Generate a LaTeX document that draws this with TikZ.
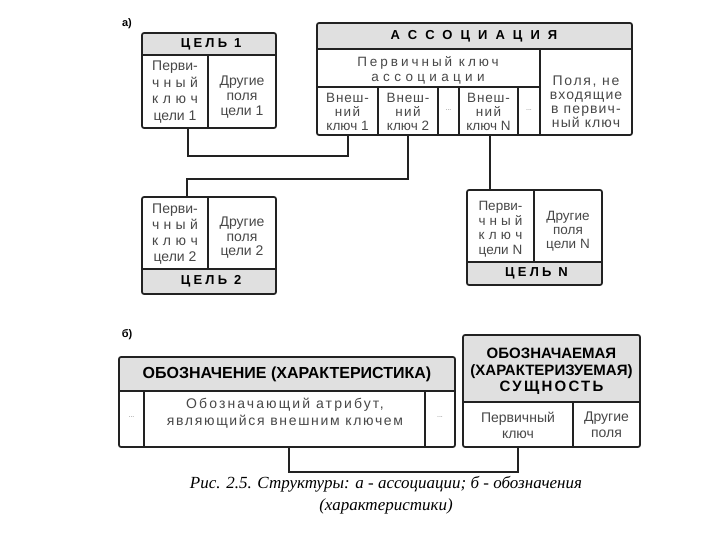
\documentclass[tikz,border=0pt]{standalone}
\usepackage{fontspec}
\setmainfont{Liberation Sans}
\newfontfamily\capfont{Liberation Serif}
\definecolor{frame}{HTML}{222222}
\definecolor{hdr}{HTML}{E0E0E0}
\definecolor{txt}{HTML}{484848}
\newcommand\LS[2]{{\addfontfeature{LetterSpace=#1}#2}}
\newcommand\spreadbox[2]{\makebox[#1][s]{#2}}
\begin{document}
\begin{tikzpicture}[x=1pt,y=-1pt,
  frm/.style={draw=frame,line width=1.7pt},
  outer/.style={frm,rounded corners=2pt},
  cell/.style={text=txt,align=center,inner sep=0pt,font=\fontsize{14}{16.5}\selectfont},
  fkcell/.style={text=txt,align=center,inner sep=0pt,font=\fontsize{13.5}{14}\selectfont},
  head/.style={text=black,inner sep=0pt,align=center,font=\bfseries\fontsize{13}{15}\selectfont},
  dots/.style={text=txt!70,inner sep=0pt,font=\fontsize{7}{8}\selectfont},
  link/.style={draw=frame,line width=1.7pt},
  lbl/.style={inner sep=0pt,font=\bfseries\fontsize{11}{13}\selectfont}
]
\useasboundingbox[fill=white] (0,0) rectangle (720,540);

% ---------- part a ----------
\node[lbl] (la) at (127,24) {а)};

% Цель 1
\fill[hdr] (142,33) rectangle (276,55);
\draw[frm] (142,55) -- (276,55);
\draw[frm] (208,55) -- (208,128);
\draw[outer] (142,33) rectangle (276,128);
\node[head] (g1h) at (211,44) {\LS{25}{ЦЕЛЬ 1}};
\node[cell] (g1pk) at (175,92) {Перви-\\\spreadbox{46pt}{ч\hfill н\hfill ы\hfill й}\\\spreadbox{46pt}{к\hfill л\hfill ю\hfill ч}\\цели 1};
\node[cell,font=\fontsize{14}{15}\selectfont] (g1o) at (242,97) {Другие\\поля\\цели 1};
\coordinate (g1key) at (188,128);

% Ассоциация
\fill[hdr] (317,23) rectangle (632,49);
\draw[frm] (317,49) -- (632,49);
\draw[frm] (540,49) -- (540,135);
\draw[frm] (317,87) -- (540,87);
\foreach \x in {378,438,459,518} \draw[frm] (\x,87) -- (\x,135);
\draw[outer] (317,23) rectangle (632,135);
\node[head] (ah) at (474,36) {\LS{62}{АССОЦИАЦИЯ}};
\node[cell,font=\fontsize{13.5}{15}\selectfont] (apk) at (428,70.5) {\LS{22}{Первичный ключ}\\\LS{32}{ассоциации}};
\node[fkcell] (afk1) at (347.5,112) {\LS{6}{Внеш-}\\\LS{10}{ний}\\ключ 1};
\node[fkcell] (afk2) at (408,112) {\LS{6}{Внеш-}\\\LS{10}{ний}\\ключ 2};
\node[dots] (ad1) at (448.5,110) {...};
\node[fkcell] (afkn) at (488.5,112) {\LS{6}{Внеш-}\\\LS{10}{ний}\\ключ N};
\node[dots] (ad2) at (529,110) {...};
\node[cell,font=\fontsize{14}{14}\selectfont] (aoth) at (586,102) {\LS{12}{Поля, не}\\\LS{8}{входящие}\\\LS{8}{в первич-}\\\LS{8}{ный ключ}};
\coordinate (fk1) at (348,135);
\coordinate (fk2) at (408,135);
\coordinate (fkn) at (490,135);

% Цель 2
\fill[hdr] (142,269) rectangle (276,294);
\draw[frm] (142,269) -- (276,269);
\draw[frm] (208,197) -- (208,269);
\draw[outer] (142,197) rectangle (276,294);
\node[head] (g2h) at (211,281.5) {\LS{25}{ЦЕЛЬ 2}};
\node[cell,font=\fontsize{14}{16}\selectfont] (g2pk) at (175,234) {Перви-\\\spreadbox{46pt}{ч\hfill н\hfill ы\hfill й}\\\spreadbox{46pt}{к\hfill л\hfill ю\hfill ч}\\цели 2};
\node[cell,font=\fontsize{14}{14.5}\selectfont] (g2o) at (242,238) {Другие\\поля\\цели 2};
\coordinate (g2top) at (187,197);

% Цель N
\fill[hdr] (467,262) rectangle (602,285);
\draw[frm] (467,262) -- (602,262);
\draw[frm] (534,190) -- (534,262);
\draw[outer] (467,190) rectangle (602,285);
\node[head] (gnh) at (536.5,273.5) {\LS{25}{ЦЕЛЬ N}};
\node[cell,font=\fontsize{13.5}{14.5}\selectfont] (gnpk) at (500.5,229) {Перви-\\\spreadbox{44pt}{ч\hfill н\hfill ы\hfill й}\\\spreadbox{44pt}{к\hfill л\hfill ю\hfill ч}\\цели N};
\node[cell,font=\fontsize{13.5}{14}\selectfont] (gno) at (568,231) {Другие\\поля\\цели N};
\coordinate (gntop) at (490,190);

% connectors a
\draw[link] (g1key) -- ++(0,28) -| (fk1);
\draw[link] (fk2) -- ++(0,44) -| (g2top);
\draw[link] (fkn) -- (gntop);

% ---------- part b ----------
\node[lbl] (lb) at (127,335) {б)};

% Обозначение
\fill[hdr] (119,357) rectangle (455,391);
\draw[frm] (119,391) -- (455,391);
\draw[frm] (144,391) -- (144,447);
\draw[frm] (425,391) -- (425,447);
\draw[outer] (119,357) rectangle (455,447);
\node[head,font=\bfseries\fontsize{16}{18}\selectfont] (oh) at (287,374) {ОБОЗНАЧЕНИЕ (ХАРАКТЕРИСТИКА)};
\node[cell,font=\fontsize{14}{17}\selectfont] (ob) at (285,413.5) {\LS{15}{Обозначающий атрибут,}\\\LS{12}{являющийся внешним ключем}};
\node[dots] (od1) at (131.5,417) {...};
\node[dots] (od2) at (440,417) {...};
\coordinate (obfk) at (289,447);

% Обозначаемая
\fill[hdr] (463,335) rectangle (640,402);
\draw[frm] (463,402) -- (640,402);
\draw[frm] (573,402) -- (573,447);
\draw[outer] (463,335) rectangle (640,447);
\node[head,font=\bfseries\fontsize{15}{16.5}\selectfont] (eh) at (551.5,371.5) {ОБОЗНАЧАЕМАЯ\\(ХАРАКТЕРИЗУЕМАЯ)\\\LS{15}{СУЩНОСТЬ}};
\node[cell,font=\fontsize{14}{16}\selectfont] (epk) at (518,425) {Первичный\\ключ};
\node[cell,font=\fontsize{14}{16}\selectfont] (eo) at (606.5,425) {Другие\\поля};
\coordinate (obpk) at (518,447);

\draw[link] (obfk) -- ++(0,25) -| (obpk);

% caption
\node[inner sep=0pt,align=center,font=\capfont\itshape\fontsize{17}{22}\selectfont] (cap) at (386,495)
  {Рис. 2.5. Структуры: а - ассоциации; б - обозначения\\(характеристики)};
\end{tikzpicture}
\end{document}
